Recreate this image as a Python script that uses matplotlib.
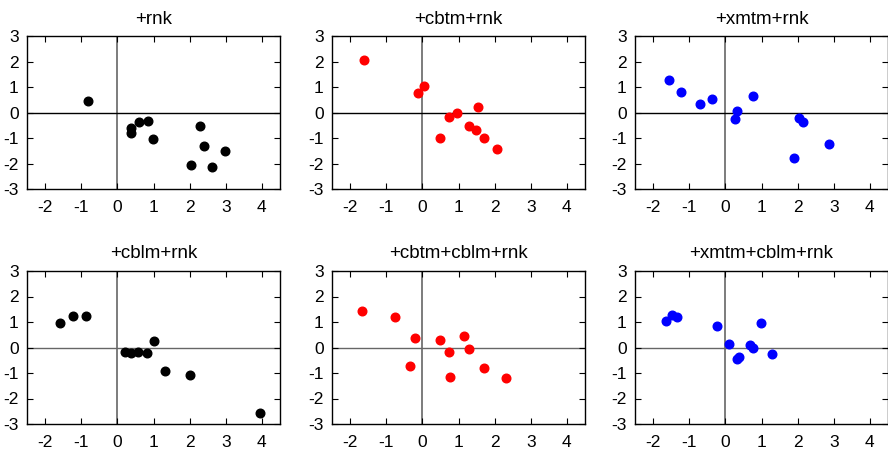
import matplotlib
matplotlib.use("Agg")
import matplotlib.pyplot as plt

plt.rcParams['font.family'] = ['Liberation Sans', 'DejaVu Sans']
plt.rcParams['axes.unicode_minus'] = False

titles = ["+rnk", "+cbtm+rnk", "+xmtm+rnk",
          "+cblm+rnk", "+cbtm+cblm+rnk", "+xmtm+cblm+rnk"]
colors = ["black", "red", "blue", "black", "red", "blue"]

rnk_x = [-0.81, 0.37, 0.37, 0.60, 0.85, 0.99, 2.28, 2.40, 2.99, 2.03, 2.63]
rnk_y = [0.46, -0.60, -0.81, -0.38, -0.33, -1.05, -0.51, -1.32, -1.51, -2.07, -2.15]

cbtm_x = [-1.62, -0.11, 0.04, 0.75, 0.95, 1.55, 1.29, 1.48, 0.49, 1.71, 2.07]
cbtm_y = [2.06, 0.77, 1.02, -0.17, -0.03, 0.21, -0.54, -0.67, -1.01, -1.01, -1.42]

xmtm_x = [-1.55, -1.24, -0.69, -0.37, 0.32, 0.28, 0.76, 2.03, 2.14, 2.86, 1.90]
xmtm_y = [1.26, 0.79, 0.34, 0.51, 0.07, -0.26, 0.63, -0.21, -0.39, -1.23, -1.77]

cblm_x = [-1.59, -1.24, -0.88, 0.20, 0.37, 0.56, 0.81, 1.02, 1.33, 2.00, 3.95]
cblm_y = [0.97, 1.25, 1.22, -0.16, -0.22, -0.16, -0.22, 0.25, -0.92, -1.09, -2.57]

cbtm_cblm_x = [-1.68, -0.75, -0.20, -0.33, 0.50, 0.75, 0.77, 1.16, 1.28, 1.70, 2.31]
cbtm_cblm_y = [1.45, 1.19, 0.38, -0.72, 0.29, -0.16, -1.15, 0.45, -0.05, -0.79, -1.18]

xmtm_cblm_x = [-1.63, -1.49, -1.35, -0.24, 0.11, 0.31, 0.37, 0.68, 0.77, 0.98, 1.28]
xmtm_cblm_y = [1.02, 1.26, 1.19, 0.85, 0.13, -0.45, -0.39, 0.08, 0.00, 0.97, -0.25]

xs = [rnk_x, cbtm_x, xmtm_x, cblm_x, cbtm_cblm_x, xmtm_cblm_x]
ys = [rnk_y, cbtm_y, xmtm_y, cblm_y, cbtm_cblm_y, xmtm_cblm_y]

fig = plt.figure(figsize=(8.88, 4.49), dpi=100)

lefts = [27/888, 332/888, 635/888]
bottoms = [1 - 189/449, 1 - 424/449]
w, h = 253/888, 153/449

for i in range(6):
    r, c = divmod(i, 3)
    ax = fig.add_axes([lefts[c], bottoms[r], w, h])
    ax.axvline(0, color="#666666", lw=1.2, zorder=1)
    ax.axhline(0, color="black" if r == 0 else "#666666", lw=1.0, zorder=1)
    ax.plot(xs[i], ys[i], 'o', color=colors[i], ms=6.2, mec=colors[i], zorder=3)
    ax.set_xlim(-2.5, 4.5)
    ax.set_ylim(-3, 3)
    ax.set_xticks(range(-2, 5))
    ax.set_yticks(range(-3, 4))
    ax.tick_params(direction="in", top=True, right=True, length=4,
                   labelsize=12.5)
    ax.tick_params(axis="x", pad=8)
    ax.tick_params(axis="y", pad=6)
    for s in ax.spines.values():
        s.set_linewidth(1.0)
    ax.set_title(titles[i], fontsize=13.5, pad=9)

fig.savefig("out.png", dpi=100)
